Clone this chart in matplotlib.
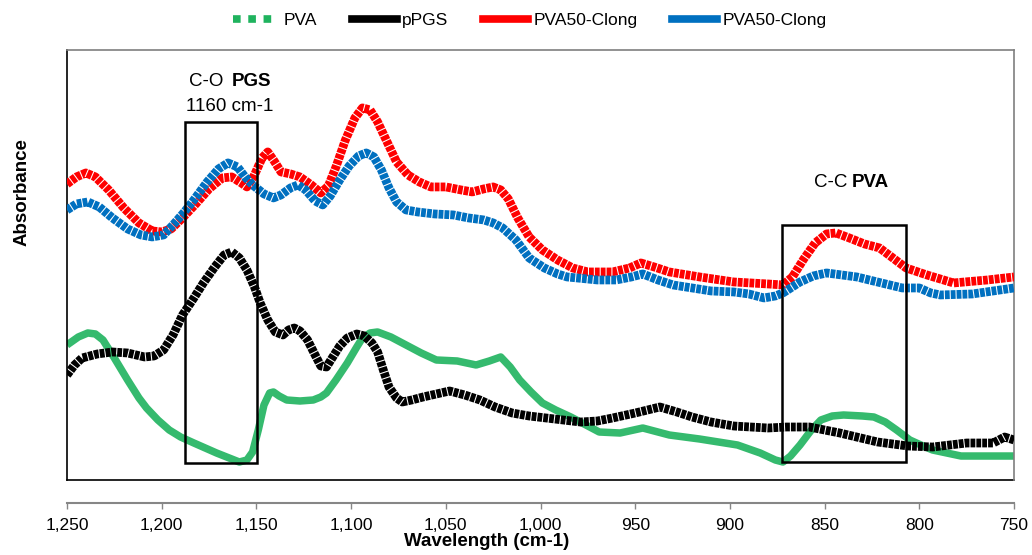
import matplotlib
matplotlib.use("Agg")
import matplotlib.pyplot as plt
from matplotlib.lines import Line2D
from matplotlib.patches import Rectangle
from matplotlib.ticker import FuncFormatter, MultipleLocator

plt.rcParams['font.family'] = ['Liberation Sans', 'DejaVu Sans']

# -------------------------------
# FTIR spectra (wavenumber cm-1, absorbance a.u.)
# -------------------------------
pva_wn = [1250, 1244, 1239, 1235, 1231, 1225, 1218, 1212, 1208, 1202, 1196, 1190,
          1183, 1171, 1163, 1159, 1155, 1152, 1149, 1146, 1143, 1141, 1138, 1134,
          1127, 1120, 1116, 1113, 1108, 1102, 1097, 1094, 1090, 1086, 1079, 1071,
          1063, 1055, 1044, 1034, 1027, 1021, 1016, 1011, 1005, 999, 992, 984,
          976, 969, 958, 946, 932, 916, 896, 884, 876, 872, 868, 863, 857, 852,
          846, 840, 830, 824, 818, 812, 805, 798, 793, 778, 750]
pva_abs = [0.135, 0.143, 0.147, 0.146, 0.140, 0.122, 0.100, 0.082, 0.072, 0.060,
           0.050, 0.043, 0.037, 0.027, 0.021, 0.018, 0.020, 0.028, 0.050, 0.075,
           0.087, 0.088, 0.084, 0.080, 0.079, 0.080, 0.083, 0.087, 0.100, 0.117,
           0.133, 0.142, 0.147, 0.148, 0.143, 0.135, 0.127, 0.120, 0.119, 0.115,
           0.119, 0.123, 0.113, 0.100, 0.088, 0.077, 0.070, 0.063, 0.055, 0.048,
           0.047, 0.052, 0.045, 0.041, 0.035, 0.027, 0.020, 0.018, 0.024, 0.035,
           0.050, 0.060, 0.064, 0.065, 0.064, 0.063, 0.058, 0.050, 0.040, 0.034,
           0.030, 0.024, 0.024]

ppgs_wn = [1250, 1246, 1242, 1234, 1226, 1218, 1209, 1204, 1199, 1194, 1189, 1183,
           1178, 1172, 1167, 1163, 1159, 1155, 1151, 1148, 1144, 1140, 1136, 1133,
           1130, 1127, 1123, 1119, 1116, 1113, 1110, 1106, 1102, 1097, 1093, 1089,
           1086, 1083, 1080, 1076, 1073, 1068, 1062, 1055, 1048, 1040, 1032, 1024,
           1015, 1006, 997, 988, 979, 970, 962, 950, 937, 928, 920, 910, 898, 880,
           870, 858, 842, 822, 806, 793, 775, 761, 755, 750]
ppgs_abs = [0.105, 0.115, 0.122, 0.126, 0.128, 0.127, 0.123, 0.124, 0.130, 0.145,
            0.165, 0.182, 0.197, 0.213, 0.225, 0.228, 0.222, 0.210, 0.193, 0.177,
            0.160, 0.148, 0.145, 0.150, 0.152, 0.149, 0.140, 0.125, 0.114, 0.113,
            0.122, 0.134, 0.142, 0.146, 0.144, 0.137, 0.128, 0.110, 0.093, 0.082,
            0.078, 0.080, 0.083, 0.086, 0.089, 0.085, 0.080, 0.073, 0.067, 0.064,
            0.062, 0.060, 0.058, 0.059, 0.062, 0.067, 0.073, 0.068, 0.063, 0.058,
            0.054, 0.052, 0.053, 0.053, 0.047, 0.038, 0.034, 0.033, 0.037, 0.037,
            0.043, 0.040]

red_wn = [1250, 1245, 1240, 1235, 1228, 1220, 1212, 1205, 1200, 1195, 1189, 1182,
          1175, 1168, 1163, 1158, 1155, 1151, 1147, 1144, 1141, 1137, 1132, 1127,
          1121, 1116, 1112, 1108, 1103, 1098, 1094, 1090, 1086, 1081, 1076, 1070,
          1064, 1058, 1050, 1042, 1036, 1030, 1025, 1021, 1017, 1012, 1006, 999,
          991, 983, 975, 962, 953, 947, 940, 932, 916, 898, 880, 872, 867, 861,
          855, 849, 844, 837, 829, 821, 814, 807, 796, 782, 764, 750]
red_abs = [0.296, 0.303, 0.307, 0.303, 0.290, 0.272, 0.257, 0.249, 0.248, 0.251,
           0.262, 0.276, 0.291, 0.302, 0.303, 0.297, 0.293, 0.305, 0.322, 0.328,
           0.320, 0.308, 0.306, 0.303, 0.295, 0.287, 0.294, 0.313, 0.340, 0.362,
           0.372, 0.370, 0.358, 0.338, 0.318, 0.305, 0.298, 0.293, 0.293, 0.290,
           0.288, 0.291, 0.293, 0.290, 0.281, 0.262, 0.243, 0.230, 0.220, 0.212,
           0.208, 0.208, 0.212, 0.217, 0.213, 0.208, 0.203, 0.198, 0.196, 0.195,
           0.203, 0.221, 0.237, 0.246, 0.247, 0.242, 0.236, 0.232, 0.222, 0.212,
           0.205, 0.197, 0.200, 0.203]

blue_wn = [1250, 1245, 1239, 1233, 1226, 1218, 1211, 1205, 1199, 1194, 1188, 1183,
           1176, 1170, 1165, 1160, 1156, 1152, 1146, 1141, 1137, 1132, 1128, 1124,
           1119, 1115, 1111, 1106, 1101, 1096, 1092, 1088, 1084, 1080, 1076, 1071,
           1065, 1056, 1046, 1038, 1030, 1025, 1020, 1013, 1006, 998, 991, 986,
           970, 960, 952, 946, 938, 930, 910, 898, 890, 882, 876, 872, 863, 856,
           849, 833, 820, 809, 800, 794, 789, 772, 750]
blue_abs = [0.270, 0.276, 0.278, 0.273, 0.262, 0.251, 0.245, 0.243, 0.245, 0.255,
            0.268, 0.280, 0.298, 0.311, 0.317, 0.313, 0.303, 0.295, 0.286, 0.282,
            0.285, 0.292, 0.295, 0.290, 0.279, 0.275, 0.284, 0.300, 0.314, 0.324,
            0.327, 0.323, 0.310, 0.292, 0.278, 0.270, 0.268, 0.266, 0.265, 0.262,
            0.260, 0.257, 0.252, 0.240, 0.222, 0.212, 0.206, 0.203, 0.200, 0.200,
            0.203, 0.206, 0.200, 0.195, 0.189, 0.188, 0.186, 0.182, 0.184, 0.187,
            0.198, 0.204, 0.207, 0.203, 0.197, 0.192, 0.192, 0.187, 0.185, 0.186,
            0.192]

series_labels = ['PVA', 'pPGS', 'PVA50-Clong', 'PVA50-Clong']
series_colors = ['#1fb35e', '#000000', '#ff0000', '#0070c0']

fig = plt.figure(figsize=(10.32, 5.55), dpi=100)
ax = fig.add_axes([0.0649, 0.1351, 0.9177, 0.775])

ax.plot(pva_wn, pva_abs, color=series_colors[0], lw=5.4, alpha=0.9,
        solid_capstyle='butt', solid_joinstyle='round', zorder=2)
for wn, ab, col in [(ppgs_wn, ppgs_abs, series_colors[1]),
                    (red_wn, red_abs, series_colors[2]),
                    (blue_wn, blue_abs, series_colors[3])]:
    ax.plot(wn, ab, color=col, lw=6.3, dashes=(0.55, 0.12),
            dash_capstyle='butt', dash_joinstyle='round', zorder=3)

ax.set_xlim(1250, 750)
ax.set_ylim(0, 0.43)
ax.xaxis.set_major_locator(MultipleLocator(50))
ax.xaxis.set_major_formatter(FuncFormatter(lambda v, p: f"{v:,.0f}"))
ax.set_yticks([])

# plot-area border, x axis drawn separately below it
for s in ['left', 'top', 'right']:
    ax.spines[s].set_linewidth(1.2)
ax.spines['left'].set_color('black')
ax.spines['top'].set_color('#7f7f7f')
ax.spines['right'].set_color('#7f7f7f')
ax.spines['bottom'].set_position(('outward', 16.5))
ax.spines['bottom'].set_color('#868686')
ax.spines['bottom'].set_linewidth(1.5)
ax.add_line(Line2D([0, 1], [0, 0], transform=ax.transAxes, color='black',
                   lw=1.2, clip_on=False))
ax.tick_params(axis='x', direction='out', length=4.5, width=1, color='#868686',
               labelsize=12.5, pad=6)

# band regions
ax.add_patch(Rectangle((1149.7, 0.017), 38.0, 0.341, fill=False,
                       ec='black', lw=1.8, zorder=4))
ax.add_patch(Rectangle((807.0, 0.018), 65.5, 0.237, fill=False,
                       ec='black', lw=1.8, zorder=4))

ax.text(1167.6, 0.398, 'C-O', ha='right', va='center', fontsize=13.5)
ax.text(1163.0, 0.398, 'PGS', ha='left', va='center', fontsize=13.5,
        fontweight='bold')
ax.text(1164.0, 0.373, '1160 cm-1', ha='center', va='center', fontsize=13.5)
ax.text(838.2, 0.297, 'C-C', ha='right', va='center', fontsize=13.5)
ax.text(835.5, 0.297, 'PVA', ha='left', va='center', fontsize=13.5,
        fontweight='bold')

fig.text(487 / 1032, 1 - 541 / 555, 'Wavelength (cm-1)', ha='center',
         va='center', fontsize=13.5, fontweight='bold')
fig.text(22 / 1032, 1 - 192 / 555, 'Absorbance', ha='center', va='center',
         rotation=90, fontsize=13.5, fontweight='bold')

handles = [Line2D([], [], color=series_colors[0], lw=5.5, dashes=(1, 1))] + \
          [Line2D([], [], color=c, lw=5.5) for c in series_colors[1:]]
fig.legend(handles, series_labels, loc='center', bbox_to_anchor=(530 / 1032, 1 - 20 / 555),
           ncol=4, frameon=False, fontsize=12.5, handlelength=2.6,
           handletextpad=0.3, columnspacing=2.0)

fig.savefig('out.png', dpi=100)
